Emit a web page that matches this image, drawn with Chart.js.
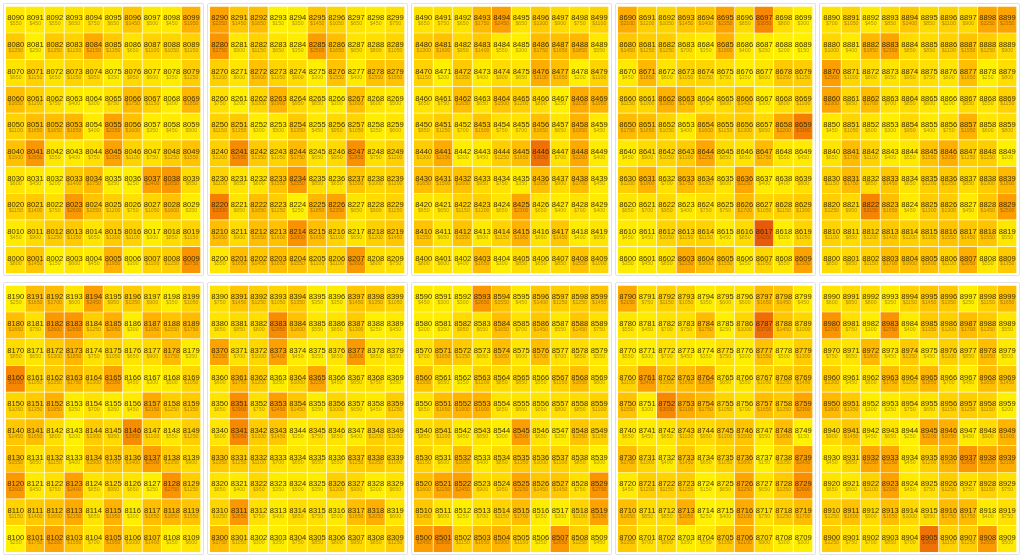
<!DOCTYPE html>
<html>
<head>
<meta charset="utf-8">
<script src="https://cdn.jsdelivr.net/npm/chart.js@4.4.1/dist/chart.umd.min.js"></script>
<style>
  html, body { margin: 0; padding: 0; background: #ffffff; }
  #stage { position: relative; width: 1024px; height: 560px; overflow: hidden; background: #fff; }
  .frame { position: absolute; border: 1px solid #e2e2e2; border-radius: 2px; box-sizing: border-box; background: #fff; }
  .panel { position: absolute; }
</style>
</head>
<body>
<div id="stage"></div>
<script>
// Panel id bases, in screen order (top row left->right, then bottom row left->right)
const panelBases = [8000, 8200, 8400, 8600, 8800, 8100, 8300, 8500, 8700, 8900];
// Column categories (ones digit) and row categories (tens digit)
const onesLabels = ['0','1','2','3','4','5','6','7','8','9'];
const tensLabels = [0,1,2,3,4,5,6,7,8,9];

// Values in reading order: row x9 first (top), down to row x0 (bottom), each row ones 0..9
const values8000 = [
  550,450,550,650,750,650,1450,500,450,1950,
  1350,250,1350,1150,2150,1350,650,1100,1050,1150,
  650,1150,650,1050,950,350,950,600,350,1250,
  1650,1200,750,400,300,750,1750,1150,300,1850,
  1100,1650,1650,1850,400,2350,1600,350,450,500,
  1600,2650,550,400,750,2350,1100,750,1250,1550,
  600,450,200,1400,1750,350,250,2400,2650,850,
  1150,1400,750,2600,1550,1200,750,1050,1600,350,
  450,900,1250,1350,650,1300,1100,300,850,1150,
  800,1450,150,600,450,1950,300,1100,1250,2750
];
const values8200 = [
  2350,1450,1650,150,350,1450,1050,650,450,750,
  2750,500,1150,650,350,2500,1650,650,800,1050,
  1200,600,1600,1050,900,300,1550,400,1550,1550,
  750,200,1000,1900,950,650,300,1600,600,500,
  1150,1350,300,500,1350,450,950,1050,350,600,
  1200,2950,1350,1050,1750,650,950,2850,750,1200,
  1100,650,600,1550,2550,850,650,1500,1000,1200,
  3300,650,1650,1250,250,1850,2350,650,900,1150,
  1650,900,1650,1600,2800,1650,1100,650,1200,1450,
  550,1650,1450,1650,1550,1100,1100,2600,800,750
];
const values8400 = [
  650,750,650,1750,2450,650,1300,900,750,1100,
  1300,1600,950,1400,550,300,1750,1650,1850,550,
  1150,200,1350,400,900,650,2100,1650,200,1100,
  650,750,1650,650,1500,1200,800,250,2150,1950,
  950,1250,700,1500,750,700,1650,650,1950,450,
  1300,2150,300,450,1250,1650,3650,700,2200,400,
  1650,1500,1600,950,750,350,1650,900,1700,450,
  650,650,1150,1200,650,2300,650,400,700,400,
  1550,650,1550,500,1150,1950,650,1450,400,650,
  800,600,400,1650,300,850,650,850,1550,1000
];
const values8600 = [
  2100,1200,1050,1450,1400,2350,850,3050,800,300,
  1450,1250,1250,700,350,1900,400,350,200,150,
  450,1850,600,1050,1050,750,350,600,1350,1250,
  1150,1000,1950,1700,750,900,1400,300,800,1100,
  1750,1650,1050,400,1600,1150,1300,950,2200,3300,
  450,900,1050,1300,2250,850,650,1750,550,450,
  1200,1900,700,1750,1300,600,2250,400,400,800,
  650,700,950,400,750,750,1700,1050,1150,1300,
  450,450,1050,1150,1150,450,850,4200,300,1050,
  350,450,650,2150,1600,1550,350,1050,550,2350
];
const values8800 = [
  700,1050,450,850,1400,850,1100,900,2250,2350,
  1000,400,1850,2350,850,850,1100,1550,1250,900,
  2500,1000,800,650,950,750,600,1650,250,800,
  2300,950,1700,700,850,600,200,850,550,1150,
  450,1050,600,300,950,400,750,1950,600,800,
  650,1700,1100,400,550,1550,2050,1250,1250,200,
  1150,1750,850,1450,650,1200,1350,850,1300,1800,
  1250,950,3150,1650,450,1300,1300,450,1450,2500,
  1100,850,1200,1400,1200,1300,1550,1450,1550,550,
  850,950,1150,1700,1600,1600,1100,2050,550,1350
];
const values8100 = [
  250,1650,1700,600,2450,950,1350,900,350,1050,
  1650,750,2600,2650,1250,2050,300,1950,1550,1750,
  850,650,1300,1850,750,1050,650,900,1750,350,
  3100,1050,1350,1750,1300,2350,450,300,500,1050,
  1050,1350,1950,350,700,350,450,2150,1250,1350,
  1450,1650,800,200,1300,950,2950,1100,550,1250,
  1550,650,1150,400,1500,1450,1400,2500,1350,900,
  2600,450,750,2400,650,950,650,250,2750,1250,
  1150,1400,1600,2150,650,1950,300,1650,1850,1550,
  250,1750,2300,1550,700,1950,1000,1400,350,600
];
const values8300 = [
  750,1450,1250,1050,1350,350,350,1450,1350,1050,
  650,850,800,2950,1600,550,650,1300,250,450,
  2350,700,1000,2400,450,350,650,2600,650,650,
  600,1750,1200,350,1000,2250,450,650,750,350,
  650,2900,750,2450,1450,350,1000,650,450,1250,
  600,3050,1300,1450,350,750,650,400,1200,1050,
  1350,1250,1100,700,650,650,550,1250,1350,1000,
  650,400,950,350,500,350,1200,950,300,650,
  1050,2650,750,400,850,750,500,1650,2050,600,
  1750,1050,300,350,750,850,800,950,850,1250
];
const values8500 = [
  450,300,300,2650,1550,450,1400,1250,1250,1450,
  300,350,950,650,1650,700,1450,550,1450,750,
  700,1650,1350,650,1650,600,1700,700,850,550,
  1550,650,350,1200,850,850,550,1150,1650,600,
  650,1650,1900,1900,650,650,650,800,850,1100,
  850,1100,450,650,300,2500,650,350,1550,1150,
  1150,600,1650,400,850,1350,1000,1100,850,300,
  1600,2250,2450,900,950,2250,1450,1450,750,2750,
  1450,600,250,700,1150,1700,350,300,1100,2350,
  2450,2850,1150,1650,1900,1100,350,2650,1250,450
];
const values8700 = [
  2150,750,1150,1050,350,600,600,1650,1450,450,
  550,450,700,750,1750,250,1000,3700,1450,1000,
  550,300,700,450,350,750,300,1550,500,1300,
  1100,2400,1500,1650,2050,650,550,1050,1250,1450,
  1550,300,3050,2100,1750,1050,700,1650,1350,2300,
  650,450,650,1100,950,1300,1500,550,1650,150,
  1700,1000,400,1450,650,1050,1600,150,1050,2450,
  450,1200,1150,1250,150,650,2250,650,1350,2900,
  1650,850,850,2050,250,400,2100,750,1250,1700,
  1350,700,900,350,550,1350,2100,900,300,300
];
const values8900 = [
  600,850,800,350,1150,1450,1350,250,1150,1650,
  2700,750,300,2750,400,1350,1200,1700,1350,550,
  750,650,1800,450,1350,450,1200,850,1650,500,
  1300,450,600,1750,1200,1850,700,450,1650,1450,
  1800,1350,300,350,750,650,1150,1250,1150,200,
  900,1450,450,650,250,2200,2050,450,900,1900,
  450,850,2250,2250,450,1200,1800,2650,2200,2100,
  650,500,1100,2350,450,750,1250,750,1150,750,
  1250,1600,900,1650,1000,850,1750,1750,400,750,
  1250,750,700,850,700,3600,1150,1250,2550,500
];

const panelValues = {
  8000: values8000, 8100: values8100, 8200: values8200, 8300: values8300, 8400: values8400,
  8500: values8500, 8600: values8600, 8700: values8700, 8800: values8800, 8900: values8900
};

// colour scale: value -> colour
const colorStops = [
  [0,    [255, 245, 0]],
  [500,  [255, 233, 0]],
  [1000, [255, 215, 0]],
  [1500, [255, 197, 0]],
  [2000, [255, 177, 0]],
  [2500, [252, 157, 0]],
  [3000, [248, 138, 0]],
  [3600, [241, 114, 4]],
  [4200, [232, 90, 10]]
];
function colorFor(v) {
  for (let i = 1; i < colorStops.length; i++) {
    const [v1, c1] = colorStops[i];
    const [v0, c0] = colorStops[i - 1];
    if (v <= v1 || i === colorStops.length - 1) {
      const t = Math.max(0, Math.min(1, (v - v0) / (v1 - v0)));
      const c = c0.map((a, k) => Math.round(a + (c1[k] - a) * t));
      return `rgb(${c[0]},${c[1]},${c[2]})`;
    }
  }
}

const cellLabels = {
  id: 'cellLabels',
  afterDatasetsDraw(chart) {
    const ctx = chart.ctx;
    const meta = chart.getDatasetMeta(0);
    const ds = chart.data.datasets[0];
    ctx.save();
    ctx.textAlign = 'center';
    ctx.textBaseline = 'middle';
    meta.data.forEach((bar, i) => {
      const raw = ds.data[i];
      const p = bar.getProps(['x', 'y', 'base'], true);
      const cy = (p.y + p.base) / 2;
      ctx.font = '7.6px "Liberation Sans", Arial, sans-serif';
      ctx.fillStyle = 'rgba(45,35,0,0.92)';
      ctx.fillText(String(raw.code), p.x, cy - 1);
      ctx.font = '5.2px "Liberation Sans", Arial, sans-serif';
      ctx.fillStyle = 'rgba(90,55,0,0.5)';
      ctx.fillText('$' + raw.value, p.x, cy + 4.4);
    });
    ctx.restore();
  }
};

const stage = document.getElementById('stage');
const GRID_W = 195, GRID_H = 267, PITCH_X = 204, PITCH_Y = 279, OFF_X = 6, OFF_Y = 6;

panelBases.forEach((base, pi) => {
  const col = pi % 5, row = Math.floor(pi / 5);
  const left = OFF_X + col * PITCH_X, top = OFF_Y + row * PITCH_Y;

  const frame = document.createElement('div');
  frame.className = 'frame';
  frame.style.left = (left - 3) + 'px';
  frame.style.top = (top - 3) + 'px';
  frame.style.width = (GRID_W + 6) + 'px';
  frame.style.height = (GRID_H + 6) + 'px';
  stage.appendChild(frame);

  const holder = document.createElement('div');
  holder.className = 'panel';
  holder.style.left = left + 'px';
  holder.style.top = top + 'px';
  holder.style.width = GRID_W + 'px';
  holder.style.height = GRID_H + 'px';
  const canvas = document.createElement('canvas');
  holder.appendChild(canvas);
  stage.appendChild(holder);

  const vals = panelValues[base];
  const data = [];
  tensLabels.forEach(t => {
    onesLabels.forEach((o, oi) => {
      const value = vals[(9 - t) * 10 + oi];
      data.push({ x: o, y: [t, t + 1], value: value, code: base + t * 10 + oi });
    });
  });

  new Chart(canvas, {
    type: 'bar',
    data: {
      labels: onesLabels,
      datasets: [{
        data: data,
        backgroundColor: c => colorFor(c.raw.value),
        borderColor: 'rgba(255,255,230,0.5)',
        borderWidth: { top: 1, right: 1, bottom: 0, left: 0 },
        borderSkipped: false,
        categoryPercentage: 1,
        barPercentage: 1
      }]
    },
    options: {
      responsive: true,
      maintainAspectRatio: false,
      devicePixelRatio: 1,
      animation: false,
      layout: { padding: 0 },
      plugins: { legend: { display: false }, tooltip: { enabled: false } },
      scales: {
        x: { type: 'category', display: false, offset: true },
        y: { type: 'linear', display: false, min: 0, max: 10 }
      }
    },
    plugins: [cellLabels]
  });
});
</script>
</body>
</html>
